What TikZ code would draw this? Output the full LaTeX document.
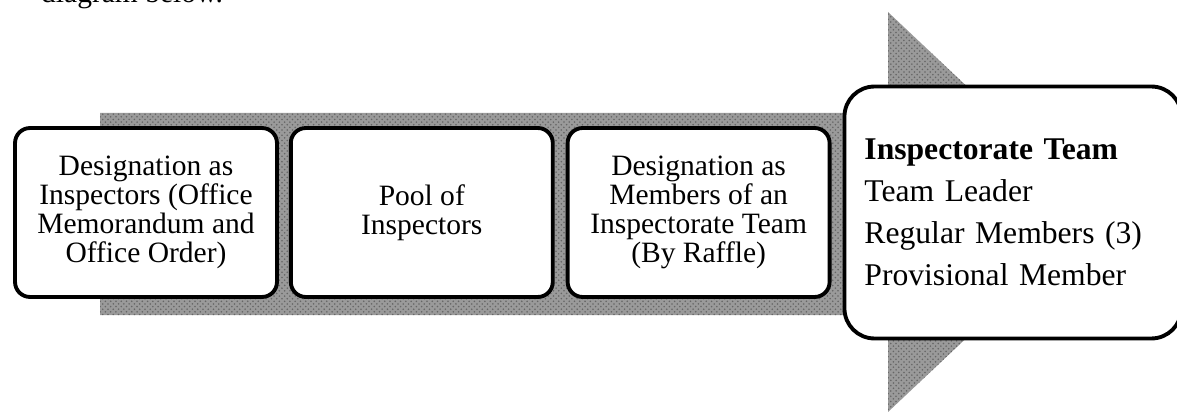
\documentclass[tikz,border=0pt]{standalone}
\usepackage{fontspec}
\setmainfont{Liberation Serif}
\usetikzlibrary{positioning,patterns}
\definecolor{bandgray}{HTML}{9A9A9A}

\begin{document}
\begin{tikzpicture}[x=0.02cm, y=-0.02cm,
    stage/.style={
        draw=black,
        line width=2.2pt,
        rounded corners=0.3cm,
        fill=white,
        align=center,
        minimum width=5.24cm,
        minimum height=3.38cm,
        inner sep=2pt,
        font=\fontsize{16.8}{16.6}\selectfont
    },
    team/.style={
        draw=black,
        line width=2.2pt,
        rounded corners=0.6cm,
        fill=white,
        align=left,
        text width=5.94cm,
        inner xsep=0.4cm,
        minimum height=5.04cm,
        font=\fontsize{18}{23.9}\selectfont
    },
    band/.style={fill=bandgray, postaction={pattern=crosshatch dots, pattern color=black!60}}
]
    \useasboundingbox (0,0) rectangle (1177,412);

    % grey arrow behind the stages
    \path[band] (100,113) -- (888,113) -- (888,12) -- (1100,212)
        -- (888,412) -- (888,315) -- (100,315) -- cycle;

    \node[anchor=base west, font=\fontsize{16.8}{16.6}\selectfont] (intro) at (35,3) {diagram below.};

    \node[stage] (designate) at (146,212.5) {
        Designation as\\
        Inspectors (Office\\
        Memorandum and\\
        Office Order)
    };

    \node[stage, right=0.2cm of designate] (pool) {
        Pool of\\
        Inspectors
    };

    \node[stage, right=0.22cm of pool] (raffle) {
        Designation as\\
        Members of an\\
        Inspectorate Team\\
        (By Raffle)
    };

    \node[team, right=0.22cm of raffle] (team) {
        \textbf{Inspectorate Team}\\
        Team Leader\\
        Regular Members (3)\\
        Provisional Member
    };
\end{tikzpicture}
\end{document}
